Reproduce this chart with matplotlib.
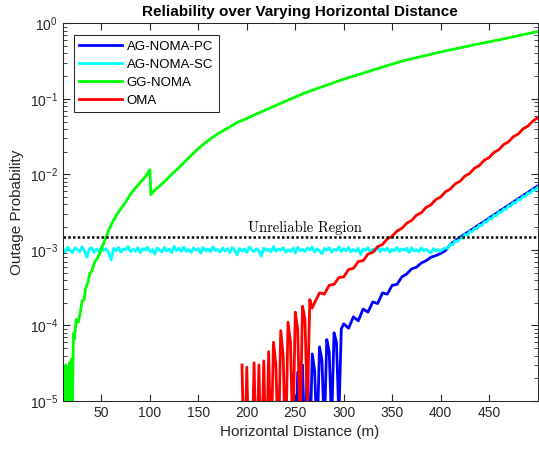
import numpy as np
import matplotlib.pyplot as plt

plt.rcParams['font.family'] = ['Liberation Sans', 'DejaVu Sans']

# AG-NOMA-SC (cyan), in units of 1e-3: floor around 1e-3, then rising
dist_sc = np.arange(10, 500.1, 2.5)
p_sc_milli = [
    1.05, 0.94, 1.08, 0.99, 0.92, 1.06, 1.01, 0.95, 1.10, 0.97,
    0.80, 1.03, 1.07, 0.93, 1.02, 0.96, 1.09, 0.98, 1.04, 0.91,
    0.74, 1.05, 0.97, 1.08, 0.94, 1.03, 1.00, 1.11, 0.95, 1.02,
    0.96, 1.07, 0.92, 1.04, 0.99, 1.09, 0.95, 1.01, 0.88, 1.06,
    1.00, 0.94, 1.08, 0.97, 1.03, 0.92, 1.12, 0.98, 1.05, 0.95,
    1.09, 0.96, 1.02, 0.93, 1.06, 0.99, 1.04, 0.90, 1.07, 0.97,
    1.03, 0.95, 1.10, 0.98, 1.01, 0.94, 1.06, 0.97, 1.04, 0.92,
    1.08, 0.99, 0.86, 1.05, 0.96, 1.03, 0.93, 1.09, 1.00, 0.95,
    1.04, 0.97, 0.83, 1.06, 0.98, 1.02, 0.94, 1.11, 0.96, 1.03,
    0.99, 1.07, 0.93, 1.01, 0.96, 1.05, 0.91, 1.08, 0.98, 1.02,
    0.95, 1.06, 1.00, 1.09, 0.94, 1.03, 0.97, 0.89, 1.05, 0.99,
    1.07, 0.93, 1.02, 0.98, 1.10, 0.95, 1.04, 0.97, 1.08, 0.94,
    1.01, 0.96, 1.05, 0.87, 1.03, 0.99, 1.07, 0.94, 1.02, 0.97,
    1.11, 0.95, 1.04, 0.98, 1.06, 0.93, 1.02, 0.97, 1.08, 0.96,
    1.03, 0.99, 1.05, 0.92, 1.07, 0.97, 1.01, 0.94, 1.06, 0.98,
    1.02, 0.95, 0.91, 1.04, 0.97, 1.01, 0.96, 1.03, 1.05,
    1.06, 1.19, 1.17, 1.31, 1.29, 1.45, 1.43, 1.60, 1.57, 1.76,
    1.74, 1.93, 1.91, 2.14, 2.10, 2.35, 2.33, 2.60, 2.56, 2.87,
    2.83, 3.17, 3.12, 3.48, 3.44, 3.84, 3.80, 4.23, 4.18, 4.67,
    4.62, 5.15, 5.09, 5.67, 5.61, 6.25, 6.18, 6.73]

# AG-NOMA-PC (blue)
dist_pc = np.concatenate([np.arange(245, 299, 2.5), np.arange(300, 501, 5)])
p_pc = [1e-6, 2.2e-5, 1e-6, 2.4e-5, 1e-6, 3.0e-5, 2e-6, 3.5e-5, 2e-6, 4.2e-5,
        2.5e-5, 3e-6, 5.2e-5, 3.5e-5, 4e-6, 6.5e-5, 4.5e-5, 5e-6, 8.0e-5, 6e-5,
        6e-6, 9.0e-5,
        1.05e-4, 9.2e-5, 1.3e-4, 1.15e-4, 1.65e-4, 1.5e-4, 2.05e-4, 1.95e-4,
        2.7e-4, 2.6e-4, 3.4e-4, 3.5e-4, 4.4e-4, 4.8e-4, 5.6e-4, 5.9e-4, 6.7e-4,
        7.2e-4, 8.0e-4, 8.4e-4, 9.0e-4, 9.8e-4, 1.18e-3,
        1.32e-3, 1.47e-3, 1.62e-3, 1.78e-3, 1.97e-3, 2.17e-3, 2.39e-3, 2.64e-3,
        2.91e-3, 3.21e-3, 3.54e-3, 3.90e-3, 4.30e-3, 4.75e-3, 5.24e-3, 5.77e-3,
        6.37e-3, 7.02e-3]

# GG-NOMA (green)
dist_gg = [10, 11, 12, 13, 14, 15, 16, 17, 18, 19, 20, 21, 22,
           24, 26, 28, 30, 32, 34, 36, 38, 40,
           43, 46, 49, 52, 55, 58,
           62, 66, 70, 75, 80, 85, 90, 95,
           99, 100, 101, 105, 110, 117, 124, 131,
           140, 150, 160, 170, 180, 190, 200,
           220, 240, 260, 280, 300, 320, 340, 360, 380, 400, 420, 440, 460, 480, 500]
p_gg = [1e-6, 2.5e-5, 1e-6, 3e-5, 2e-6, 2.8e-5, 1e-6, 3.2e-5, 4e-6, 3.6e-5, 6e-6, 7.8e-5, 6.6e-5,
        1.2e-4, 1.1e-4, 1.45e-4, 2.1e-4, 2.2e-4, 3.2e-4, 3.7e-4, 4.9e-4, 5.2e-4,
        6.9e-4, 7.8e-4, 9.5e-4, 1.2e-3, 1.5e-3, 1.9e-3,
        2.4e-3, 2.95e-3, 3.5e-3, 4.3e-3, 5.5e-3, 6.6e-3, 7.8e-3, 9.2e-3,
        1.1e-2, 1.15e-2, 5.4e-3, 6.2e-3, 7.0e-3, 8.5e-3, 1.05e-2, 1.26e-2,
        1.66e-2, 2.2e-2, 2.8e-2, 3.45e-2, 4.07e-2, 4.85e-2, 5.5e-2,
        7.2e-2, 9.3e-2, 0.12, 0.148, 0.182, 0.219, 0.263, 0.316, 0.363, 0.417,
        0.473, 0.537, 0.603, 0.684, 0.776]

# OMA (red)
dist_oma = np.concatenate([np.arange(195, 269, 2.5), np.arange(270, 501, 5)])
p_oma = [3.0e-5, 1e-6, 2.8e-5, 1e-6, 1e-6, 3.2e-5, 1e-6, 3.0e-5, 1e-6, 3.4e-5,
         1e-6, 4.5e-5, 2e-6, 6.0e-5, 3e-5, 2e-6, 8.5e-5, 4e-5, 2e-6, 1.1e-4,
         6e-5, 3e-6, 1.5e-4, 9e-5, 4e-6, 1.8e-4, 1.2e-4, 8e-6, 2.2e-4, 1.7e-4,
         2.0e-4, 2.7e-4, 2.6e-4, 3.4e-4, 3.5e-4,
         4.3e-4, 4.4e-4, 5.5e-4, 5.7e-4, 7.0e-4, 7.2e-4, 8.8e-4, 9.3e-4, 1.1e-3, 1.18e-3,
         1.4e-3, 1.52e-3, 1.78e-3, 1.93e-3, 2.26e-3, 2.45e-3, 2.88e-3, 3.1e-3, 3.65e-3, 3.95e-3,
         4.65e-3, 5.0e-3, 5.9e-3, 6.4e-3, 7.5e-3, 8.1e-3, 9.5e-3, 1.03e-2, 1.21e-2, 1.31e-2,
         1.54e-2, 1.67e-2, 1.95e-2, 2.12e-2, 2.48e-2, 2.7e-2, 3.15e-2, 3.42e-2, 4.0e-2, 4.35e-2,
         5.05e-2, 5.6e-2]

threshold = 1.5e-3

fig = plt.figure(figsize=(5.39, 4.55), dpi=100)
ax = fig.add_axes([0.1163, 0.1187, 0.881, 0.8301])

ax.semilogy(dist_pc, p_pc, color=(0, 0, 1), lw=2, label='AG-NOMA-PC')
ax.semilogy(dist_sc, np.array(p_sc_milli) * 1e-3, color=(0, 1, 1), lw=2, label='AG-NOMA-SC')
ax.semilogy(dist_gg, p_gg, color=(0, 1, 0), lw=2, label='GG-NOMA')
ax.semilogy(dist_oma, p_oma, color=(1, 0, 0), lw=2, label='OMA')

ax.axhline(threshold, color='k', lw=1.8, linestyle=(0, (1, 0.9)))
ax.text(260, threshold * 1.05, 'Unreliable Region', family='cmr10', fontsize=10.5,
        ha='center', va='bottom')

ax.set_xlim(10, 500)
ax.set_ylim(1e-5, 1)
ax.set_xticks(np.arange(50, 451, 50))

dark = '#262626'
for s in ax.spines.values():
    s.set_color(dark)
    s.set_linewidth(0.75)
ax.tick_params(which='both', direction='in', top=True, right=True, colors=dark, labelsize=10)
ax.tick_params(which='major', length=5)
ax.tick_params(which='minor', length=3)

ax.set_xlabel('Horizontal Distance (m)', fontsize=11, color=dark)
ax.set_ylabel('Outage Probability', fontsize=11, color=dark)
ax.set_title('Reliability over Varying Horizontal Distance', fontsize=11, fontweight='bold', pad=5)

leg = ax.legend(loc='upper left', bbox_to_anchor=(0.024, 0.969), borderaxespad=0,
                fancybox=False, edgecolor=dark, framealpha=1, fontsize=9.5,
                handlelength=3.2, handletextpad=0.4, labelspacing=0.45, borderpad=0.4)
leg.get_frame().set_linewidth(0.75)

fig.savefig('out.png', dpi=100)
